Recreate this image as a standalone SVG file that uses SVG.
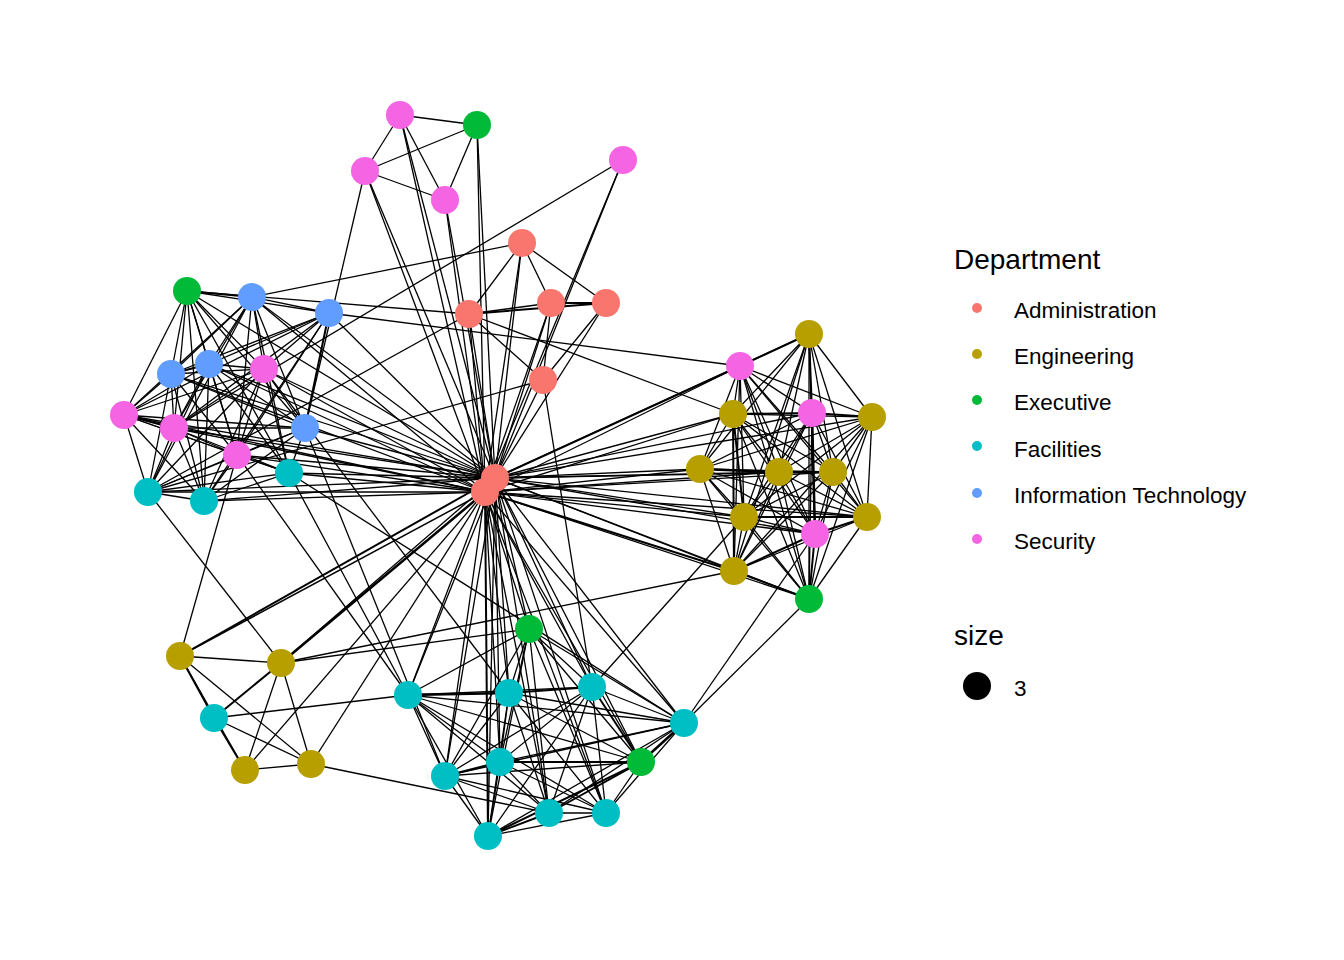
<svg xmlns="http://www.w3.org/2000/svg" width="1344" height="960" viewBox="0 0 1344 960">
<style>
.e{stroke:#000;stroke-width:1.3;fill:none}
.n{stroke:none}
.adm{fill:#F8766D}.eng{fill:#B79F00}.exe{fill:#00BA38}.fac{fill:#00BFC4}.it{fill:#619CFF}.sec{fill:#F564E3}
.lt{font-family:"Liberation Sans",Arial,sans-serif;font-size:28px;fill:#000}
.ll{font-family:"Liberation Sans",Arial,sans-serif;font-size:22.5px;fill:#000}
</style>
<rect width="1344" height="960" fill="#fff"/>
<g id="edges" class="e">
<!-- top -->
<line x1="400" y1="115" x2="477" y2="125"/><line x1="400" y1="115" x2="365" y2="171"/><line x1="400" y1="115" x2="445" y2="200"/>
<line x1="365" y1="171" x2="477" y2="125"/><line x1="365" y1="171" x2="445" y2="200"/><line x1="445" y1="200" x2="477" y2="125"/>
<line x1="400" y1="115" x2="495" y2="478"/><line x1="400" y1="115" x2="485" y2="492"/>
<line x1="477" y1="125" x2="495" y2="478"/><line x1="477" y1="125" x2="485" y2="492"/>
<line x1="445" y1="200" x2="495" y2="478"/><line x1="445" y1="200" x2="485" y2="492"/>
<line x1="365" y1="171" x2="495" y2="478"/><line x1="365" y1="171" x2="485" y2="492"/>
<line x1="365" y1="171" x2="305" y2="428"/><line x1="623" y1="160" x2="174" y2="428"/>
<line x1="623" y1="160" x2="495" y2="478"/><line x1="623" y1="160" x2="485" y2="492"/>
<!-- admin -->
<line x1="522" y1="243" x2="469" y2="314"/><line x1="522" y1="243" x2="551" y2="303"/><line x1="522" y1="243" x2="606" y2="303"/>
<line x1="522" y1="243" x2="495" y2="478"/><line x1="522" y1="243" x2="485" y2="492"/><line x1="522" y1="243" x2="252" y2="297"/>
<line x1="469" y1="314" x2="551" y2="303"/><line x1="469" y1="314" x2="606" y2="303" stroke-width="2"/><line x1="469" y1="314" x2="543" y2="380"/>
<line x1="469" y1="314" x2="187" y2="291"/><line x1="469" y1="314" x2="733" y2="414"/><line x1="469" y1="314" x2="148" y2="492"/>
<line x1="469" y1="314" x2="495" y2="478"/><line x1="469" y1="314" x2="485" y2="492"/>
<line x1="551" y1="303" x2="606" y2="303" stroke-width="2"/><line x1="551" y1="303" x2="495" y2="478"/><line x1="551" y1="303" x2="485" y2="492"/>
<line x1="551" y1="303" x2="543" y2="380"/><line x1="606" y1="303" x2="495" y2="478"/><line x1="606" y1="303" x2="543" y2="380"/>
<line x1="543" y1="380" x2="495" y2="478"/><line x1="543" y1="380" x2="148" y2="492"/><line x1="543" y1="380" x2="592" y2="687"/>
<line x1="329" y1="313" x2="740" y2="366"/>
<!-- left cluster -->
<line x1="187" y1="291" x2="252" y2="297" stroke-width="2"/><line x1="187" y1="291" x2="171" y2="374"/><line x1="187" y1="291" x2="209" y2="364"/>
<line x1="187" y1="291" x2="264" y2="369"/><line x1="187" y1="291" x2="124" y2="415"/><line x1="187" y1="291" x2="174" y2="428"/>
<line x1="187" y1="291" x2="237" y2="455"/><line x1="187" y1="291" x2="305" y2="428"/><line x1="187" y1="291" x2="204" y2="501"/>
<line x1="187" y1="291" x2="289" y2="473"/><line x1="187" y1="291" x2="329" y2="313"/>
<line x1="252" y1="297" x2="329" y2="313"/><line x1="252" y1="297" x2="171" y2="374"/><line x1="252" y1="297" x2="209" y2="364"/>
<line x1="252" y1="297" x2="264" y2="369"/><line x1="252" y1="297" x2="124" y2="415"/><line x1="252" y1="297" x2="174" y2="428"/>
<line x1="252" y1="297" x2="237" y2="455"/><line x1="252" y1="297" x2="305" y2="428"/><line x1="252" y1="297" x2="148" y2="492"/>
<line x1="252" y1="297" x2="289" y2="473"/>
<line x1="329" y1="313" x2="171" y2="374"/><line x1="329" y1="313" x2="209" y2="364"/><line x1="329" y1="313" x2="264" y2="369"/>
<line x1="329" y1="313" x2="124" y2="415"/><line x1="329" y1="313" x2="174" y2="428"/><line x1="329" y1="313" x2="305" y2="428" stroke-width="2"/>
<line x1="329" y1="313" x2="204" y2="501"/><line x1="329" y1="313" x2="237" y2="455"/>
<line x1="171" y1="374" x2="209" y2="364" stroke-width="2"/><line x1="171" y1="374" x2="264" y2="369"/><line x1="171" y1="374" x2="124" y2="415"/>
<line x1="171" y1="374" x2="174" y2="428"/><line x1="171" y1="374" x2="237" y2="455"/><line x1="171" y1="374" x2="305" y2="428"/>
<line x1="171" y1="374" x2="148" y2="492"/><line x1="171" y1="374" x2="204" y2="501"/>
<line x1="209" y1="364" x2="264" y2="369"/><line x1="209" y1="364" x2="124" y2="415"/><line x1="209" y1="364" x2="174" y2="428"/>
<line x1="209" y1="364" x2="237" y2="455"/><line x1="209" y1="364" x2="305" y2="428"/><line x1="209" y1="364" x2="148" y2="492"/>
<line x1="209" y1="364" x2="204" y2="501"/><line x1="209" y1="364" x2="289" y2="473"/>
<line x1="264" y1="369" x2="124" y2="415"/><line x1="264" y1="369" x2="174" y2="428"/><line x1="264" y1="369" x2="237" y2="455"/>
<line x1="264" y1="369" x2="305" y2="428"/><line x1="264" y1="369" x2="148" y2="492"/><line x1="264" y1="369" x2="204" y2="501"/>
<line x1="264" y1="369" x2="289" y2="473"/>
<line x1="124" y1="415" x2="174" y2="428" stroke-width="2"/><line x1="124" y1="415" x2="237" y2="455"/><line x1="124" y1="415" x2="148" y2="492"/>
<line x1="124" y1="415" x2="204" y2="501"/><line x1="124" y1="415" x2="305" y2="428"/><line x1="124" y1="415" x2="289" y2="473"/>
<line x1="174" y1="428" x2="237" y2="455"/><line x1="174" y1="428" x2="305" y2="428"/><line x1="174" y1="428" x2="148" y2="492"/>
<line x1="174" y1="428" x2="204" y2="501"/><line x1="174" y1="428" x2="289" y2="473"/>
<line x1="237" y1="455" x2="305" y2="428"/><line x1="237" y1="455" x2="148" y2="492"/><line x1="237" y1="455" x2="204" y2="501"/>
<line x1="237" y1="455" x2="289" y2="473"/>
<line x1="305" y1="428" x2="148" y2="492"/><line x1="305" y1="428" x2="289" y2="473"/><line x1="305" y1="428" x2="204" y2="501"/>
<line x1="148" y1="492" x2="204" y2="501"/><line x1="148" y1="492" x2="289" y2="473"/><line x1="204" y1="501" x2="289" y2="473"/>
<!-- left to hub -->
<line x1="252" y1="297" x2="495" y2="478"/><line x1="329" y1="313" x2="495" y2="478"/><line x1="171" y1="374" x2="495" y2="478"/>
<line x1="209" y1="364" x2="495" y2="478"/><line x1="305" y1="428" x2="495" y2="478"/><line x1="187" y1="291" x2="495" y2="478"/>
<line x1="264" y1="369" x2="495" y2="478"/><line x1="124" y1="415" x2="495" y2="478"/><line x1="174" y1="428" x2="495" y2="478"/>
<line x1="237" y1="455" x2="495" y2="478"/><line x1="148" y1="492" x2="495" y2="478"/><line x1="204" y1="501" x2="495" y2="478"/>
<line x1="289" y1="473" x2="495" y2="478"/>
<line x1="252" y1="297" x2="485" y2="492"/><line x1="171" y1="374" x2="485" y2="492"/><line x1="264" y1="369" x2="485" y2="492"/>
<line x1="124" y1="415" x2="485" y2="492"/><line x1="174" y1="428" x2="485" y2="492"/><line x1="237" y1="455" x2="485" y2="492"/>
<line x1="148" y1="492" x2="485" y2="492"/><line x1="204" y1="501" x2="485" y2="492"/><line x1="289" y1="473" x2="485" y2="492"/>
<line x1="209" y1="364" x2="485" y2="492"/>
<!-- right cluster -->
<line x1="740" y1="366" x2="809" y2="334" stroke-width="2"/><line x1="740" y1="366" x2="872" y2="417"/><line x1="740" y1="366" x2="733" y2="414"/>
<line x1="740" y1="366" x2="700" y2="469"/><line x1="740" y1="366" x2="779" y2="472"/><line x1="740" y1="366" x2="833" y2="472"/>
<line x1="740" y1="366" x2="744" y2="517"/><line x1="740" y1="366" x2="867" y2="517"/><line x1="740" y1="366" x2="734" y2="571"/>
<line x1="740" y1="366" x2="812" y2="413"/><line x1="740" y1="366" x2="815" y2="534"/><line x1="740" y1="366" x2="809" y2="599"/>
<line x1="809" y1="334" x2="872" y2="417"/><line x1="809" y1="334" x2="733" y2="414"/><line x1="809" y1="334" x2="700" y2="469"/>
<line x1="809" y1="334" x2="779" y2="472"/><line x1="809" y1="334" x2="833" y2="472"/><line x1="809" y1="334" x2="744" y2="517"/>
<line x1="809" y1="334" x2="867" y2="517"/><line x1="809" y1="334" x2="734" y2="571"/><line x1="809" y1="334" x2="812" y2="413" stroke-width="2"/>
<line x1="809" y1="334" x2="815" y2="534"/><line x1="809" y1="334" x2="809" y2="599"/>
<line x1="872" y1="417" x2="733" y2="414"/><line x1="872" y1="417" x2="700" y2="469"/><line x1="872" y1="417" x2="779" y2="472"/>
<line x1="872" y1="417" x2="833" y2="472"/><line x1="872" y1="417" x2="744" y2="517"/><line x1="872" y1="417" x2="867" y2="517"/>
<line x1="872" y1="417" x2="734" y2="571"/><line x1="872" y1="417" x2="812" y2="413" stroke-width="2"/><line x1="872" y1="417" x2="815" y2="534"/>
<line x1="872" y1="417" x2="809" y2="599"/>
<line x1="733" y1="414" x2="700" y2="469"/><line x1="733" y1="414" x2="779" y2="472"/><line x1="733" y1="414" x2="833" y2="472"/>
<line x1="733" y1="414" x2="744" y2="517" stroke-width="2"/><line x1="733" y1="414" x2="867" y2="517"/><line x1="733" y1="414" x2="734" y2="571" stroke-width="2"/>
<line x1="733" y1="414" x2="812" y2="413" stroke-width="2"/><line x1="733" y1="414" x2="815" y2="534"/><line x1="733" y1="414" x2="809" y2="599"/>
<line x1="700" y1="469" x2="779" y2="472" stroke-width="2.5"/><line x1="700" y1="469" x2="833" y2="472"/><line x1="700" y1="469" x2="744" y2="517"/>
<line x1="700" y1="469" x2="867" y2="517"/><line x1="700" y1="469" x2="734" y2="571"/><line x1="700" y1="469" x2="812" y2="413"/>
<line x1="700" y1="469" x2="815" y2="534"/><line x1="700" y1="469" x2="809" y2="599"/>
<line x1="779" y1="472" x2="833" y2="472" stroke-width="2"/><line x1="779" y1="472" x2="744" y2="517"/><line x1="779" y1="472" x2="867" y2="517"/>
<line x1="779" y1="472" x2="734" y2="571"/><line x1="779" y1="472" x2="812" y2="413"/><line x1="779" y1="472" x2="815" y2="534"/>
<line x1="779" y1="472" x2="809" y2="599"/>
<line x1="833" y1="472" x2="744" y2="517"/><line x1="833" y1="472" x2="867" y2="517"/><line x1="833" y1="472" x2="734" y2="571"/>
<line x1="833" y1="472" x2="812" y2="413"/><line x1="833" y1="472" x2="815" y2="534"/><line x1="833" y1="472" x2="809" y2="599"/>
<line x1="744" y1="517" x2="867" y2="517" stroke-width="2"/><line x1="744" y1="517" x2="734" y2="571"/><line x1="744" y1="517" x2="812" y2="413"/>
<line x1="744" y1="517" x2="815" y2="534"/><line x1="744" y1="517" x2="809" y2="599"/>
<line x1="867" y1="517" x2="734" y2="571"/><line x1="867" y1="517" x2="812" y2="413"/><line x1="867" y1="517" x2="815" y2="534" stroke-width="2"/>
<line x1="867" y1="517" x2="809" y2="599"/>
<line x1="734" y1="571" x2="812" y2="413"/><line x1="734" y1="571" x2="815" y2="534" stroke-width="2"/><line x1="734" y1="571" x2="809" y2="599" stroke-width="2"/>
<line x1="812" y1="413" x2="815" y2="534" stroke-width="2.5"/><line x1="812" y1="413" x2="809" y2="599"/><line x1="815" y1="534" x2="809" y2="599" stroke-width="2"/>
<!-- right to hub -->
<line x1="740" y1="366" x2="495" y2="478" stroke-width="2"/><line x1="809" y1="334" x2="495" y2="478"/><line x1="872" y1="417" x2="495" y2="478"/>
<line x1="733" y1="414" x2="495" y2="478"/><line x1="700" y1="469" x2="495" y2="478"/><line x1="779" y1="472" x2="495" y2="478"/>
<line x1="833" y1="472" x2="495" y2="478"/><line x1="744" y1="517" x2="495" y2="478"/><line x1="867" y1="517" x2="495" y2="478"/>
<line x1="812" y1="413" x2="495" y2="478"/><line x1="815" y1="534" x2="495" y2="478"/><line x1="734" y1="571" x2="495" y2="478"/>
<line x1="809" y1="599" x2="495" y2="478"/>
<line x1="740" y1="366" x2="485" y2="492"/><line x1="700" y1="469" x2="485" y2="492"/><line x1="779" y1="472" x2="485" y2="492"/>
<line x1="744" y1="517" x2="485" y2="492"/><line x1="867" y1="517" x2="485" y2="492"/><line x1="734" y1="571" x2="485" y2="492" stroke-width="2"/>
<line x1="815" y1="534" x2="485" y2="492"/><line x1="809" y1="599" x2="485" y2="492"/><line x1="833" y1="472" x2="485" y2="492"/>
<line x1="733" y1="414" x2="485" y2="492"/>
<!-- bottom cluster -->
<line x1="529" y1="629" x2="408" y2="695"/><line x1="529" y1="629" x2="509" y2="693"/><line x1="529" y1="629" x2="592" y2="687"/>
<line x1="529" y1="629" x2="684" y2="723"/><line x1="529" y1="629" x2="445" y2="776"/><line x1="529" y1="629" x2="500" y2="762"/>
<line x1="529" y1="629" x2="549" y2="813"/><line x1="529" y1="629" x2="606" y2="813"/><line x1="529" y1="629" x2="488" y2="836"/>
<line x1="529" y1="629" x2="641" y2="762"/>
<line x1="408" y1="695" x2="509" y2="693" stroke-width="2.5"/><line x1="408" y1="695" x2="592" y2="687"/><line x1="408" y1="695" x2="684" y2="723"/>
<line x1="408" y1="695" x2="445" y2="776"/><line x1="408" y1="695" x2="500" y2="762"/><line x1="408" y1="695" x2="549" y2="813"/>
<line x1="408" y1="695" x2="606" y2="813"/><line x1="408" y1="695" x2="488" y2="836"/><line x1="408" y1="695" x2="641" y2="762"/>
<line x1="509" y1="693" x2="592" y2="687" stroke-width="2"/><line x1="509" y1="693" x2="684" y2="723"/><line x1="509" y1="693" x2="445" y2="776"/>
<line x1="509" y1="693" x2="500" y2="762"/><line x1="509" y1="693" x2="549" y2="813"/><line x1="509" y1="693" x2="606" y2="813"/>
<line x1="509" y1="693" x2="488" y2="836"/><line x1="509" y1="693" x2="641" y2="762"/>
<line x1="592" y1="687" x2="684" y2="723"/><line x1="592" y1="687" x2="445" y2="776"/><line x1="592" y1="687" x2="500" y2="762"/>
<line x1="592" y1="687" x2="549" y2="813"/><line x1="592" y1="687" x2="606" y2="813"/><line x1="592" y1="687" x2="488" y2="836"/>
<line x1="592" y1="687" x2="641" y2="762" stroke-width="2"/>
<line x1="684" y1="723" x2="445" y2="776"/><line x1="684" y1="723" x2="500" y2="762"/><line x1="684" y1="723" x2="549" y2="813"/>
<line x1="684" y1="723" x2="606" y2="813"/><line x1="684" y1="723" x2="488" y2="836"/><line x1="684" y1="723" x2="641" y2="762" stroke-width="2.5"/>
<line x1="445" y1="776" x2="500" y2="762" stroke-width="2"/><line x1="445" y1="776" x2="549" y2="813"/><line x1="445" y1="776" x2="606" y2="813"/>
<line x1="445" y1="776" x2="488" y2="836"/><line x1="445" y1="776" x2="641" y2="762"/>
<line x1="500" y1="762" x2="549" y2="813"/><line x1="500" y1="762" x2="606" y2="813"/><line x1="500" y1="762" x2="488" y2="836"/>
<line x1="500" y1="762" x2="641" y2="762" stroke-width="2"/>
<line x1="549" y1="813" x2="606" y2="813"/><line x1="549" y1="813" x2="488" y2="836" stroke-width="2"/><line x1="549" y1="813" x2="641" y2="762" stroke-width="2"/>
<line x1="606" y1="813" x2="488" y2="836"/><line x1="606" y1="813" x2="641" y2="762"/><line x1="488" y1="836" x2="641" y2="762" stroke-width="2"/>
<!-- bottom to hub -->
<line x1="529" y1="629" x2="495" y2="478"/><line x1="408" y1="695" x2="495" y2="478"/><line x1="509" y1="693" x2="495" y2="478"/>
<line x1="592" y1="687" x2="495" y2="478"/><line x1="684" y1="723" x2="495" y2="478"/><line x1="445" y1="776" x2="495" y2="478"/>
<line x1="500" y1="762" x2="495" y2="478"/><line x1="549" y1="813" x2="495" y2="478"/><line x1="606" y1="813" x2="495" y2="478"/>
<line x1="488" y1="836" x2="495" y2="478"/><line x1="641" y1="762" x2="495" y2="478"/>
<line x1="529" y1="629" x2="485" y2="492"/><line x1="408" y1="695" x2="485" y2="492"/><line x1="509" y1="693" x2="485" y2="492"/>
<line x1="445" y1="776" x2="485" y2="492"/><line x1="500" y1="762" x2="485" y2="492"/><line x1="549" y1="813" x2="485" y2="492"/>
<line x1="606" y1="813" x2="485" y2="492"/><line x1="488" y1="836" x2="485" y2="492" stroke-width="2"/><line x1="641" y1="762" x2="485" y2="492"/>
<line x1="592" y1="687" x2="485" y2="492"/><line x1="684" y1="723" x2="485" y2="492"/>
<!-- bottom-left cluster -->
<line x1="180" y1="656" x2="281" y2="663"/><line x1="180" y1="656" x2="214" y2="718" stroke-width="2"/><line x1="180" y1="656" x2="245" y2="770"/>
<line x1="180" y1="656" x2="311" y2="764"/><line x1="281" y1="663" x2="214" y2="718" stroke-width="2"/><line x1="281" y1="663" x2="245" y2="770"/>
<line x1="281" y1="663" x2="311" y2="764"/><line x1="214" y1="718" x2="245" y2="770" stroke-width="2"/><line x1="214" y1="718" x2="311" y2="764"/>
<line x1="245" y1="770" x2="311" y2="764"/>
<line x1="180" y1="656" x2="495" y2="478" stroke-width="2"/><line x1="180" y1="656" x2="485" y2="492" stroke-width="1.5"/>
<line x1="281" y1="663" x2="485" y2="492" stroke-width="2.5"/><line x1="281" y1="663" x2="495" y2="478"/>
<line x1="245" y1="770" x2="485" y2="492"/><line x1="311" y1="764" x2="485" y2="492"/>
<!-- cross -->
<line x1="180" y1="656" x2="237" y2="455"/><line x1="281" y1="663" x2="148" y2="492"/><line x1="214" y1="718" x2="408" y2="695"/>
<line x1="311" y1="764" x2="549" y2="813"/><line x1="281" y1="663" x2="529" y2="629"/><line x1="281" y1="663" x2="734" y2="571"/>
<line x1="408" y1="695" x2="289" y2="473"/><line x1="237" y1="455" x2="408" y2="695"/><line x1="305" y1="428" x2="445" y2="776"/>
<line x1="264" y1="369" x2="509" y2="693"/><line x1="289" y1="473" x2="684" y2="723"/><line x1="592" y1="687" x2="744" y2="517"/>
<line x1="809" y1="599" x2="684" y2="723"/><line x1="815" y1="534" x2="684" y2="723"/>
</g>
<g id="nodes" class="n">
<g id="node-S1"><circle class="sec" cx="400" cy="115" r="14"/></g>
<g id="node-S2"><circle class="sec" cx="365" cy="171" r="14"/></g>
<g id="node-S3"><circle class="sec" cx="445" cy="200" r="14"/></g>
<g id="node-S4"><circle class="sec" cx="623" cy="160" r="14"/></g>
<g id="node-S5"><circle class="sec" cx="264" cy="369" r="14"/></g>
<g id="node-S6"><circle class="sec" cx="124" cy="415" r="14"/></g>
<g id="node-S7"><circle class="sec" cx="174" cy="428" r="14"/></g>
<g id="node-S8"><circle class="sec" cx="237" cy="455" r="14"/></g>
<g id="node-S9"><circle class="sec" cx="740" cy="366" r="14"/></g>
<g id="node-S10"><circle class="sec" cx="812" cy="413" r="14"/></g>
<g id="node-S11"><circle class="sec" cx="815" cy="534" r="14"/></g>
<g id="node-X1"><circle class="exe" cx="477" cy="125" r="14"/></g>
<g id="node-X2"><circle class="exe" cx="187" cy="291" r="14"/></g>
<g id="node-X3"><circle class="exe" cx="529" cy="629" r="14"/></g>
<g id="node-X4"><circle class="exe" cx="641" cy="762" r="14"/></g>
<g id="node-X5"><circle class="exe" cx="809" cy="599" r="14"/></g>
<g id="node-A1"><circle class="adm" cx="522" cy="243" r="14"/></g>
<g id="node-A2"><circle class="adm" cx="469" cy="314" r="14"/></g>
<g id="node-A3"><circle class="adm" cx="551" cy="303" r="14"/></g>
<g id="node-A4"><circle class="adm" cx="606" cy="303" r="14"/></g>
<g id="node-A5"><circle class="adm" cx="543" cy="380" r="14"/></g>
<g id="node-A6"><circle class="adm" cx="495" cy="478" r="14"/></g>
<g id="node-A7"><circle class="adm" cx="485" cy="492" r="14"/></g>
<g id="node-I1"><circle class="it" cx="252" cy="297" r="14"/></g>
<g id="node-I2"><circle class="it" cx="329" cy="313" r="14"/></g>
<g id="node-I3"><circle class="it" cx="171" cy="374" r="14"/></g>
<g id="node-I4"><circle class="it" cx="209" cy="364" r="14"/></g>
<g id="node-I5"><circle class="it" cx="305" cy="428" r="14"/></g>
<g id="node-F1"><circle class="fac" cx="148" cy="492" r="14"/></g>
<g id="node-F2"><circle class="fac" cx="204" cy="501" r="14"/></g>
<g id="node-F3"><circle class="fac" cx="289" cy="473" r="14"/></g>
<g id="node-F4"><circle class="fac" cx="214" cy="718" r="14"/></g>
<g id="node-F5"><circle class="fac" cx="408" cy="695" r="14"/></g>
<g id="node-F6"><circle class="fac" cx="509" cy="693" r="14"/></g>
<g id="node-F7"><circle class="fac" cx="592" cy="687" r="14"/></g>
<g id="node-F8"><circle class="fac" cx="684" cy="723" r="14"/></g>
<g id="node-F9"><circle class="fac" cx="445" cy="776" r="14"/></g>
<g id="node-F10"><circle class="fac" cx="500" cy="762" r="14"/></g>
<g id="node-F11"><circle class="fac" cx="549" cy="813" r="14"/></g>
<g id="node-F12"><circle class="fac" cx="606" cy="813" r="14"/></g>
<g id="node-F13"><circle class="fac" cx="488" cy="836" r="14"/></g>
<g id="node-E1"><circle class="eng" cx="809" cy="334" r="14"/></g>
<g id="node-E2"><circle class="eng" cx="872" cy="417" r="14"/></g>
<g id="node-E3"><circle class="eng" cx="733" cy="414" r="14"/></g>
<g id="node-E4"><circle class="eng" cx="700" cy="469" r="14"/></g>
<g id="node-E5"><circle class="eng" cx="779" cy="472" r="14"/></g>
<g id="node-E6"><circle class="eng" cx="833" cy="472" r="14"/></g>
<g id="node-E7"><circle class="eng" cx="744" cy="517" r="14"/></g>
<g id="node-E8"><circle class="eng" cx="867" cy="517" r="14"/></g>
<g id="node-E9"><circle class="eng" cx="734" cy="571" r="14"/></g>
<g id="node-E10"><circle class="eng" cx="180" cy="656" r="14"/></g>
<g id="node-E11"><circle class="eng" cx="281" cy="663" r="14"/></g>
<g id="node-E12"><circle class="eng" cx="245" cy="770" r="14"/></g>
<g id="node-E13"><circle class="eng" cx="311" cy="764" r="14"/></g>
</g>
<g id="legend">
<text class="lt" x="954" y="269">Department</text>
<circle class="adm" cx="977" cy="308" r="5"/><text class="ll" x="1014" y="318">Administration</text>
<circle class="eng" cx="977" cy="354" r="5"/><text class="ll" x="1014" y="364">Engineering</text>
<circle class="exe" cx="977" cy="400" r="5"/><text class="ll" x="1014" y="410">Executive</text>
<circle class="fac" cx="977" cy="446" r="5"/><text class="ll" x="1014" y="457">Facilities</text>
<circle class="it" cx="977" cy="493" r="5"/><text class="ll" x="1014" y="503">Information Technology</text>
<circle class="sec" cx="977" cy="539" r="5"/><text class="ll" x="1014" y="549">Security</text>
<text class="lt" x="954" y="645">size</text>
<circle cx="977" cy="686" r="14" fill="#000"/><text class="ll" x="1014" y="696">3</text>
</g>
</svg>
